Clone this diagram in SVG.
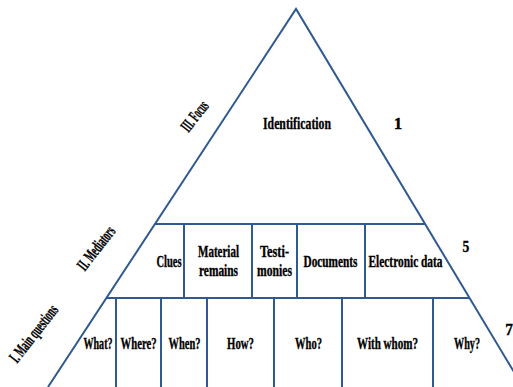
<svg xmlns="http://www.w3.org/2000/svg" width="513" height="387" viewBox="0 0 513 387">
<style>
.ln{stroke:#2F5A91;stroke-width:2;fill:none}
.t{font-family:"Liberation Serif","Times New Roman",serif;font-weight:bold;fill:#000;stroke:#000;stroke-width:0.35;text-anchor:middle}
.m{font-size:16px}
.q{font-size:17px}
.r{font-size:17px}
</style>
<rect width="513" height="387" fill="#fff"/>
<g id="frame">
<polyline class="ln" points="48,387 296,9 523,387"/>
<line class="ln" x1="155" y1="224" x2="425" y2="224"/>
<line class="ln" x1="107" y1="298" x2="469" y2="298"/>
</g>
<g id="connectors">
<line class="ln" x1="184" y1="224" x2="184" y2="298"/>
<line class="ln" x1="252" y1="224" x2="252" y2="298"/>
<line class="ln" x1="297" y1="224" x2="297" y2="298"/>
<line class="ln" x1="365" y1="224" x2="365" y2="298"/>
<line class="ln" x1="116" y1="298" x2="116" y2="387"/>
<line class="ln" x1="161" y1="298" x2="161" y2="387"/>
<line class="ln" x1="207" y1="298" x2="207" y2="387"/>
<line class="ln" x1="274" y1="298" x2="274" y2="387"/>
<line class="ln" x1="342" y1="298" x2="342" y2="387"/>
<line class="ln" x1="433" y1="298" x2="433" y2="387"/>
</g>
<g id="focus"><text class="t q" transform="translate(297,129) scale(0.69,1)" textLength="98.5" lengthAdjust="spacingAndGlyphs">Identification</text></g>
<g id="n1"><text class="t q" x="398" y="129">1</text></g>
<g id="n5"><text class="t m" transform="translate(466,252) scale(0.85,1)">5</text></g>
<g id="n7"><text class="t q" transform="translate(509,335) scale(0.9,1)">7</text></g>
<g id="label-focus"><text class="t r" transform="translate(195,116.5) rotate(-52)" x="0" y="5" textLength="34" lengthAdjust="spacingAndGlyphs">III. Focus</text></g>
<g id="label-mediators"><text class="t r" transform="translate(96.5,248.5) rotate(-52)" x="0" y="5" textLength="51" lengthAdjust="spacingAndGlyphs">II. Mediators</text></g>
<g id="label-questions"><text class="t r" transform="translate(34,334) rotate(-52)" x="0" y="5" textLength="68" lengthAdjust="spacingAndGlyphs">I. Main questions</text></g>
<g id="clues"><text class="t m" transform="translate(169,267) scale(0.65,1)" textLength="38.5" lengthAdjust="spacingAndGlyphs">Clues</text></g>
<g id="material"><text class="t m" transform="translate(218.5,257) scale(0.69,1)" textLength="59.4" lengthAdjust="spacingAndGlyphs">Material</text><text class="t m" transform="translate(218.5,276) scale(0.71,1)" textLength="55" lengthAdjust="spacingAndGlyphs">remains</text></g>
<g id="testimonies"><text class="t m" transform="translate(274.5,257) scale(0.74,1)" textLength="39.2" lengthAdjust="spacingAndGlyphs">Testi-</text><text class="t m" transform="translate(274.5,276) scale(0.73,1)" textLength="47.9" lengthAdjust="spacingAndGlyphs">monies</text></g>
<g id="documents"><text class="t m" transform="translate(330.5,267) scale(0.71,1)" textLength="76" lengthAdjust="spacingAndGlyphs">Documents</text></g>
<g id="electronic"><text class="t m" transform="translate(405.5,267) scale(0.71,1)" textLength="104.2" lengthAdjust="spacingAndGlyphs">Electronic data</text></g>
<g id="what"><text class="t q" transform="translate(98,349) scale(0.59,1)" textLength="49.2" lengthAdjust="spacingAndGlyphs">What?</text></g>
<g id="where"><text class="t q" transform="translate(138.5,349) scale(0.625,1)" textLength="57.6" lengthAdjust="spacingAndGlyphs">Where?</text></g>
<g id="when"><text class="t q" transform="translate(184.5,349) scale(0.615,1)" textLength="52" lengthAdjust="spacingAndGlyphs">When?</text></g>
<g id="how"><text class="t q" transform="translate(240.5,349) scale(0.635,1)" textLength="42.5" lengthAdjust="spacingAndGlyphs">How?</text></g>
<g id="who"><text class="t q" transform="translate(308.5,349) scale(0.62,1)" textLength="43.5" lengthAdjust="spacingAndGlyphs">Who?</text></g>
<g id="withwhom"><text class="t q" transform="translate(387.5,349) scale(0.65,1)" textLength="93.8" lengthAdjust="spacingAndGlyphs">With whom?</text></g>
<g id="why"><text class="t q" transform="translate(467,349) scale(0.6,1)" textLength="43.3" lengthAdjust="spacingAndGlyphs">Why?</text></g>
</svg>
